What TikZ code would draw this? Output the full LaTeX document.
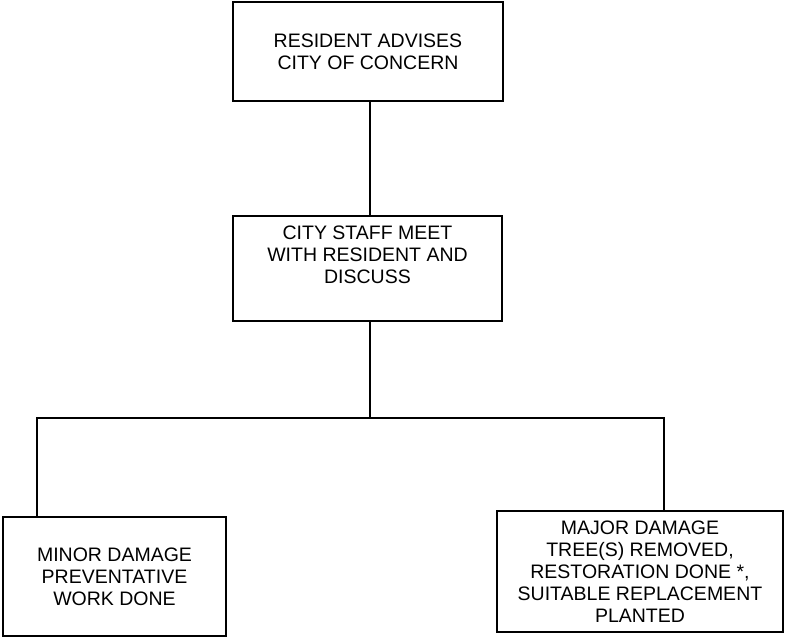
\documentclass[tikz,border=0pt]{standalone}
\usepackage{fontspec}
\setmainfont{Liberation Sans}
\begin{document}
\begin{tikzpicture}[x=1pt,y=-1pt,
  box/.style={draw, line width=1.2pt, inner sep=0pt, align=center,
    font=\fontsize{19.5}{22}\selectfont},
  txt/.style={inner sep=0pt, align=center, font=\fontsize{19.5}{22}\selectfont},
  conn/.style={draw, line width=2.4pt, line join=miter}]
\useasboundingbox (0,0) rectangle (785,638);
\node[box, minimum width=270pt, minimum height=99pt] (top) at (368,51.5)
  {RESIDENT ADVISES\\CITY OF CONCERN};
\node[box, minimum width=269pt, minimum height=105pt] (mid) at (367.5,268.5) {};
\node[txt, anchor=north] (midtxt) at ([yshift=-10pt]mid.north)
  {CITY STAFF MEET\\WITH RESIDENT AND\\DISCUSS};
\node[box, minimum width=223pt, minimum height=119pt] (left) at (114.5,576.5)
  {MINOR DAMAGE\\PREVENTATIVE\\WORK DONE};
\node[box, minimum width=286pt, minimum height=121pt] (right) at (640,571.5)
  {MAJOR DAMAGE\\TREE(S) REMOVED,\\RESTORATION DONE *,\\SUITABLE REPLACEMENT\\PLANTED};
\coordinate (j) at (370,418);
\coordinate (jl) at (37,418);
\coordinate (jr) at (664,418);
\draw[conn] (top.south -| j) -- (mid.north -| j);
\draw[conn] (mid.south -| j) -- (j);
\draw[conn] (left.north -| jl) -- (jl) -- (jr) -- (right.north -| jr);
\end{tikzpicture}
\end{document}
